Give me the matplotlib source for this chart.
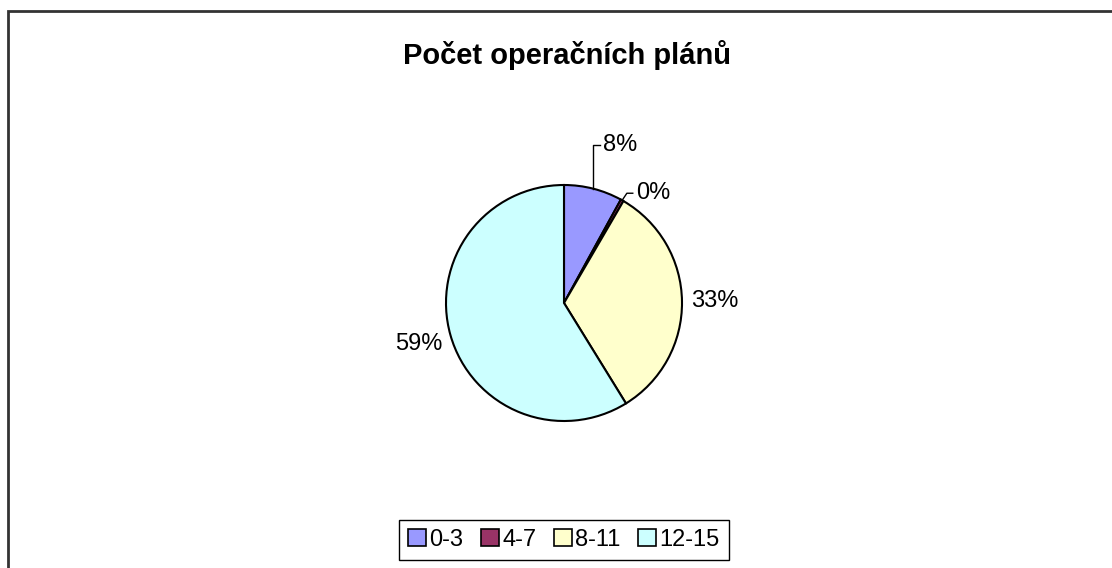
import numpy as np
import matplotlib
matplotlib.use("Agg")
import matplotlib.pyplot as plt
from matplotlib.patches import Rectangle

plt.rcParams["font.family"] = ["Liberation Sans", "DejaVu Sans"]

# data
categories = ["0-3", "4-7", "8-11", "12-15"]
shares = [8.0, 0.4, 32.8, 58.8]
colors = ["#9999FF", "#993366", "#FFFFCC", "#CCFFFF"]
title = "Počet operačních plánů"

W, H = 1112, 568
fig = plt.figure(figsize=(W / 100, H / 100), dpi=100)

# outer chart frame (cut off at right and bottom)
fig.add_artist(Rectangle((7.5 / W, -0.1), 1.2, 1 - 11.5 / H + 0.1,
                         transform=fig.transFigure, fill=False,
                         edgecolor="#333333", linewidth=2))

fig.text(567 / W, 1 - 55 / H, title, ha="center", va="center",
         fontsize=21, fontweight="bold")

# pie axes, center (564, 303) px, radius 118 px
cx, cy, r = 564, 303, 118
ax = fig.add_axes([(cx - r) / W, (H - cy - r) / H, 2 * r / W, 2 * r / H])
wedges, _ = ax.pie(shares, colors=colors, startangle=90, counterclock=False,
                   wedgeprops=dict(edgecolor="black", linewidth=1.5))
ax.set_xlim(-1, 1)
ax.set_ylim(-1, 1)
ax.set_aspect("auto")
ax.axis("off")

total = sum(shares)
labels = [f"{round(v / total * 100):.0f}%" for v in shares]

for i, w in enumerate(wedges):
    a = np.deg2rad((w.theta1 + w.theta2) / 2)
    x, y = np.cos(a), np.sin(a)
    if i == 0:
        ax.plot([x, x, x + 0.06], [y, 1.34, 1.34], color="black", lw=1, clip_on=False)
        ax.text(x + 0.08, 1.34, labels[i], ha="left", va="center", fontsize=17)
    elif i == 1:
        ex, ey = x + 0.04, y + 0.06
        ax.plot([x, ex, ex + 0.05], [y, ey, ey], color="black", lw=1, clip_on=False)
        ax.text(ex + 0.08, ey, labels[i], ha="left", va="center", fontsize=17)
    else:
        ax.text(1.28 * x, 1.28 * y, labels[i], ha="center", va="center", fontsize=17)

fig.legend(wedges, categories, loc="center", bbox_to_anchor=(564 / W, 1 - 540 / H),
           ncol=4, fontsize=17, frameon=True, fancybox=False, edgecolor="black",
           handlelength=0.75, handleheight=0.75, handletextpad=0.15,
           columnspacing=0.75, borderpad=0.4, framealpha=1)
for p in fig.legends[0].get_patches():
    p.set_linewidth(1.2)
fig.legends[0].get_frame().set_linewidth(1)

fig.savefig("out.png", dpi=100)
